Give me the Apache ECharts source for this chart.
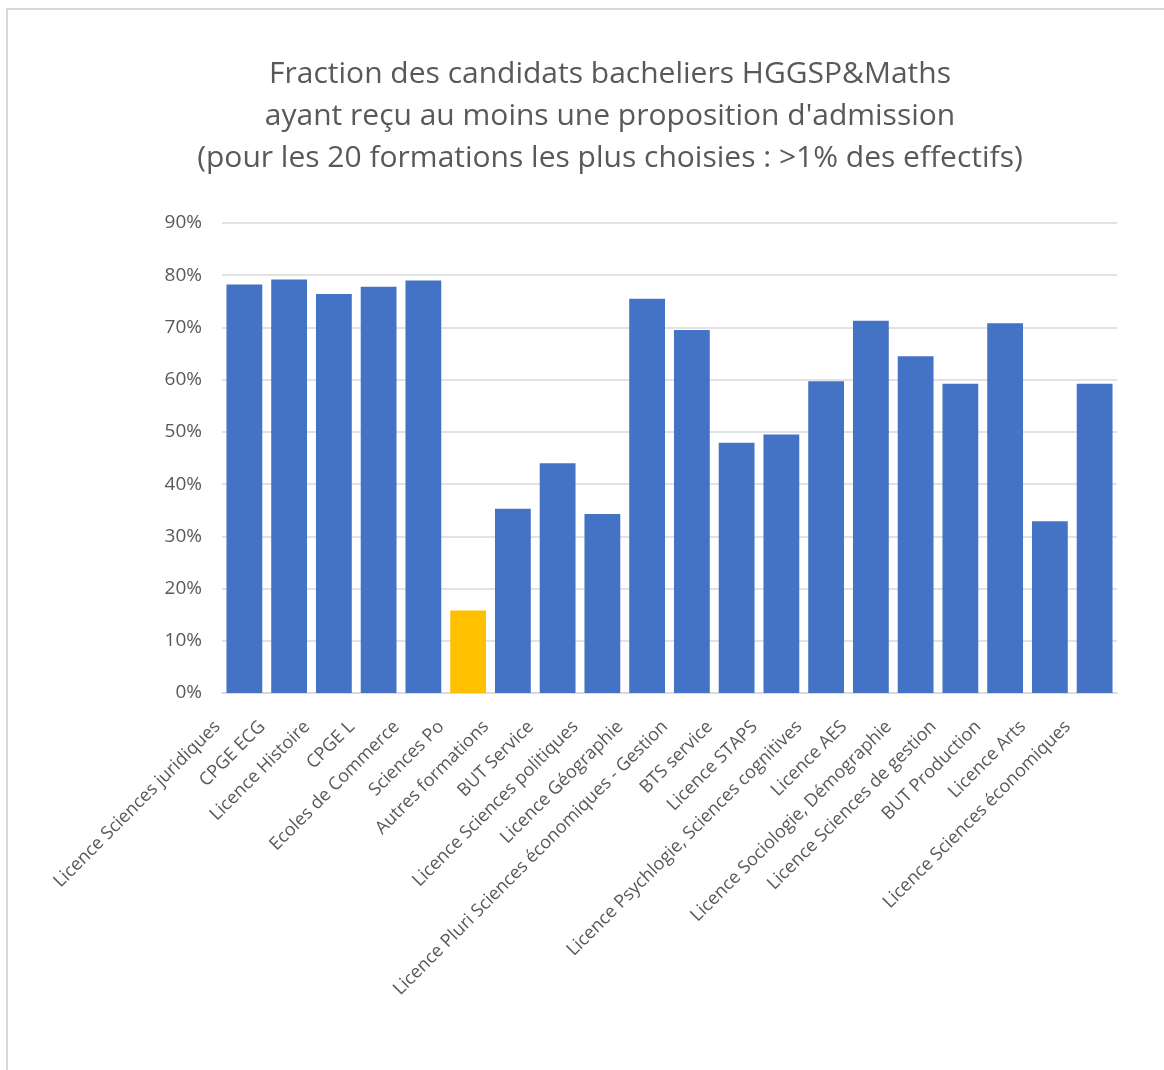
<!DOCTYPE html>
<html>
<head>
<meta charset="utf-8">
<style>
  html, body { margin: 0; padding: 0; background: #fff; }
  #frame { position: absolute; left: 6px; top: 8px; width: 1170px; height: 1080px;
           border-top: 2px solid #d9d9d9; border-left: 2px solid #d9d9d9; }
  #chart { position: absolute; left: 0; top: 0; width: 1164px; height: 1070px; }
</style>
<script src="https://cdn.jsdelivr.net/npm/echarts@6/dist/echarts.min.js"></script>
</head>
<body>
<div id="frame"></div>
<div id="chart"></div>
<script>
// formations (ordre du graphique)
var formations = [
  "Licence Sciences juridiques", "CPGE ECG", "Licence Histoire", "CPGE L",
  "Ecoles de Commerce", "Sciences Po", "Autres formations", "BUT Service",
  "Licence Sciences politiques", "Licence Géographie",
  "Licence Pluri Sciences économiques - Gestion", "BTS service", "Licence STAPS",
  "Licence Psychlogie, Sciences cognitives", "Licence AES",
  "Licence Sociologie, Démographie", "Licence Sciences de gestion",
  "BUT Production", "Licence Arts", "Licence Sciences économiques"
];
// % des candidats ayant reçu au moins une proposition
var fractions = [
  78.2, 79.2, 76.4, 77.8, 79.0, 15.8, 35.3, 44.0, 34.3, 75.5,
  69.5, 47.9, 49.5, 59.7, 71.3, 64.5, 59.2, 70.8, 32.9, 59.2
];
var highlighted = "Sciences Po";
var yTicks = [0, 10, 20, 30, 40, 50, 60, 70, 80, 90];

var font = "'Open Sans', 'Noto Sans', sans-serif";
var chart = echarts.init(document.getElementById("chart"));

chart.setOption({
  animation: false,
  title: {
    text: "Fraction des candidats bacheliers HGGSP&Maths\nayant reçu au moins une proposition d'admission\n(pour les 20 formations les plus choisies : >1% des effectifs)",
    left: 605,
    top: 48,
    textAlign: "center",
    textStyle: {
      fontFamily: font,
      fontSize: 30,
      fontWeight: "normal",
      color: "#595959",
      lineHeight: 42
    }
  },
  grid: { left: 222, right: 47, top: 223, bottom: 377 },
  xAxis: {
    type: "category",
    data: formations,
    axisLine: { lineStyle: { color: "#d9d9d9", width: 1.5 } },
    axisTick: { show: false },
    axisLabel: {
      interval: 0,
      rotate: 45,
      margin: 4,
      padding: [0, 38, 16, 0],
      fontFamily: font,
      fontSize: 18,
      color: "#595959"
    }
  },
  yAxis: {
    type: "value",
    min: yTicks[0],
    max: yTicks[yTicks.length - 1],
    interval: 10,
    axisLine: { show: false },
    axisTick: { show: false },
    splitLine: { lineStyle: { color: "#d9d9d9", width: 1.5 } },
    axisLabel: {
      margin: 20,
      formatter: "{value}%",
      fontFamily: font,
      fontSize: 19,
      color: "#595959"
    }
  },
  series: [{
    type: "bar",
    barCategoryGap: "20%",
    data: fractions.map(function (v, i) {
      return {
        value: v,
        itemStyle: { color: formations[i] === highlighted ? "#FFC000" : "#4472C4" }
      };
    })
  }]
});
</script>
</body>
</html>
